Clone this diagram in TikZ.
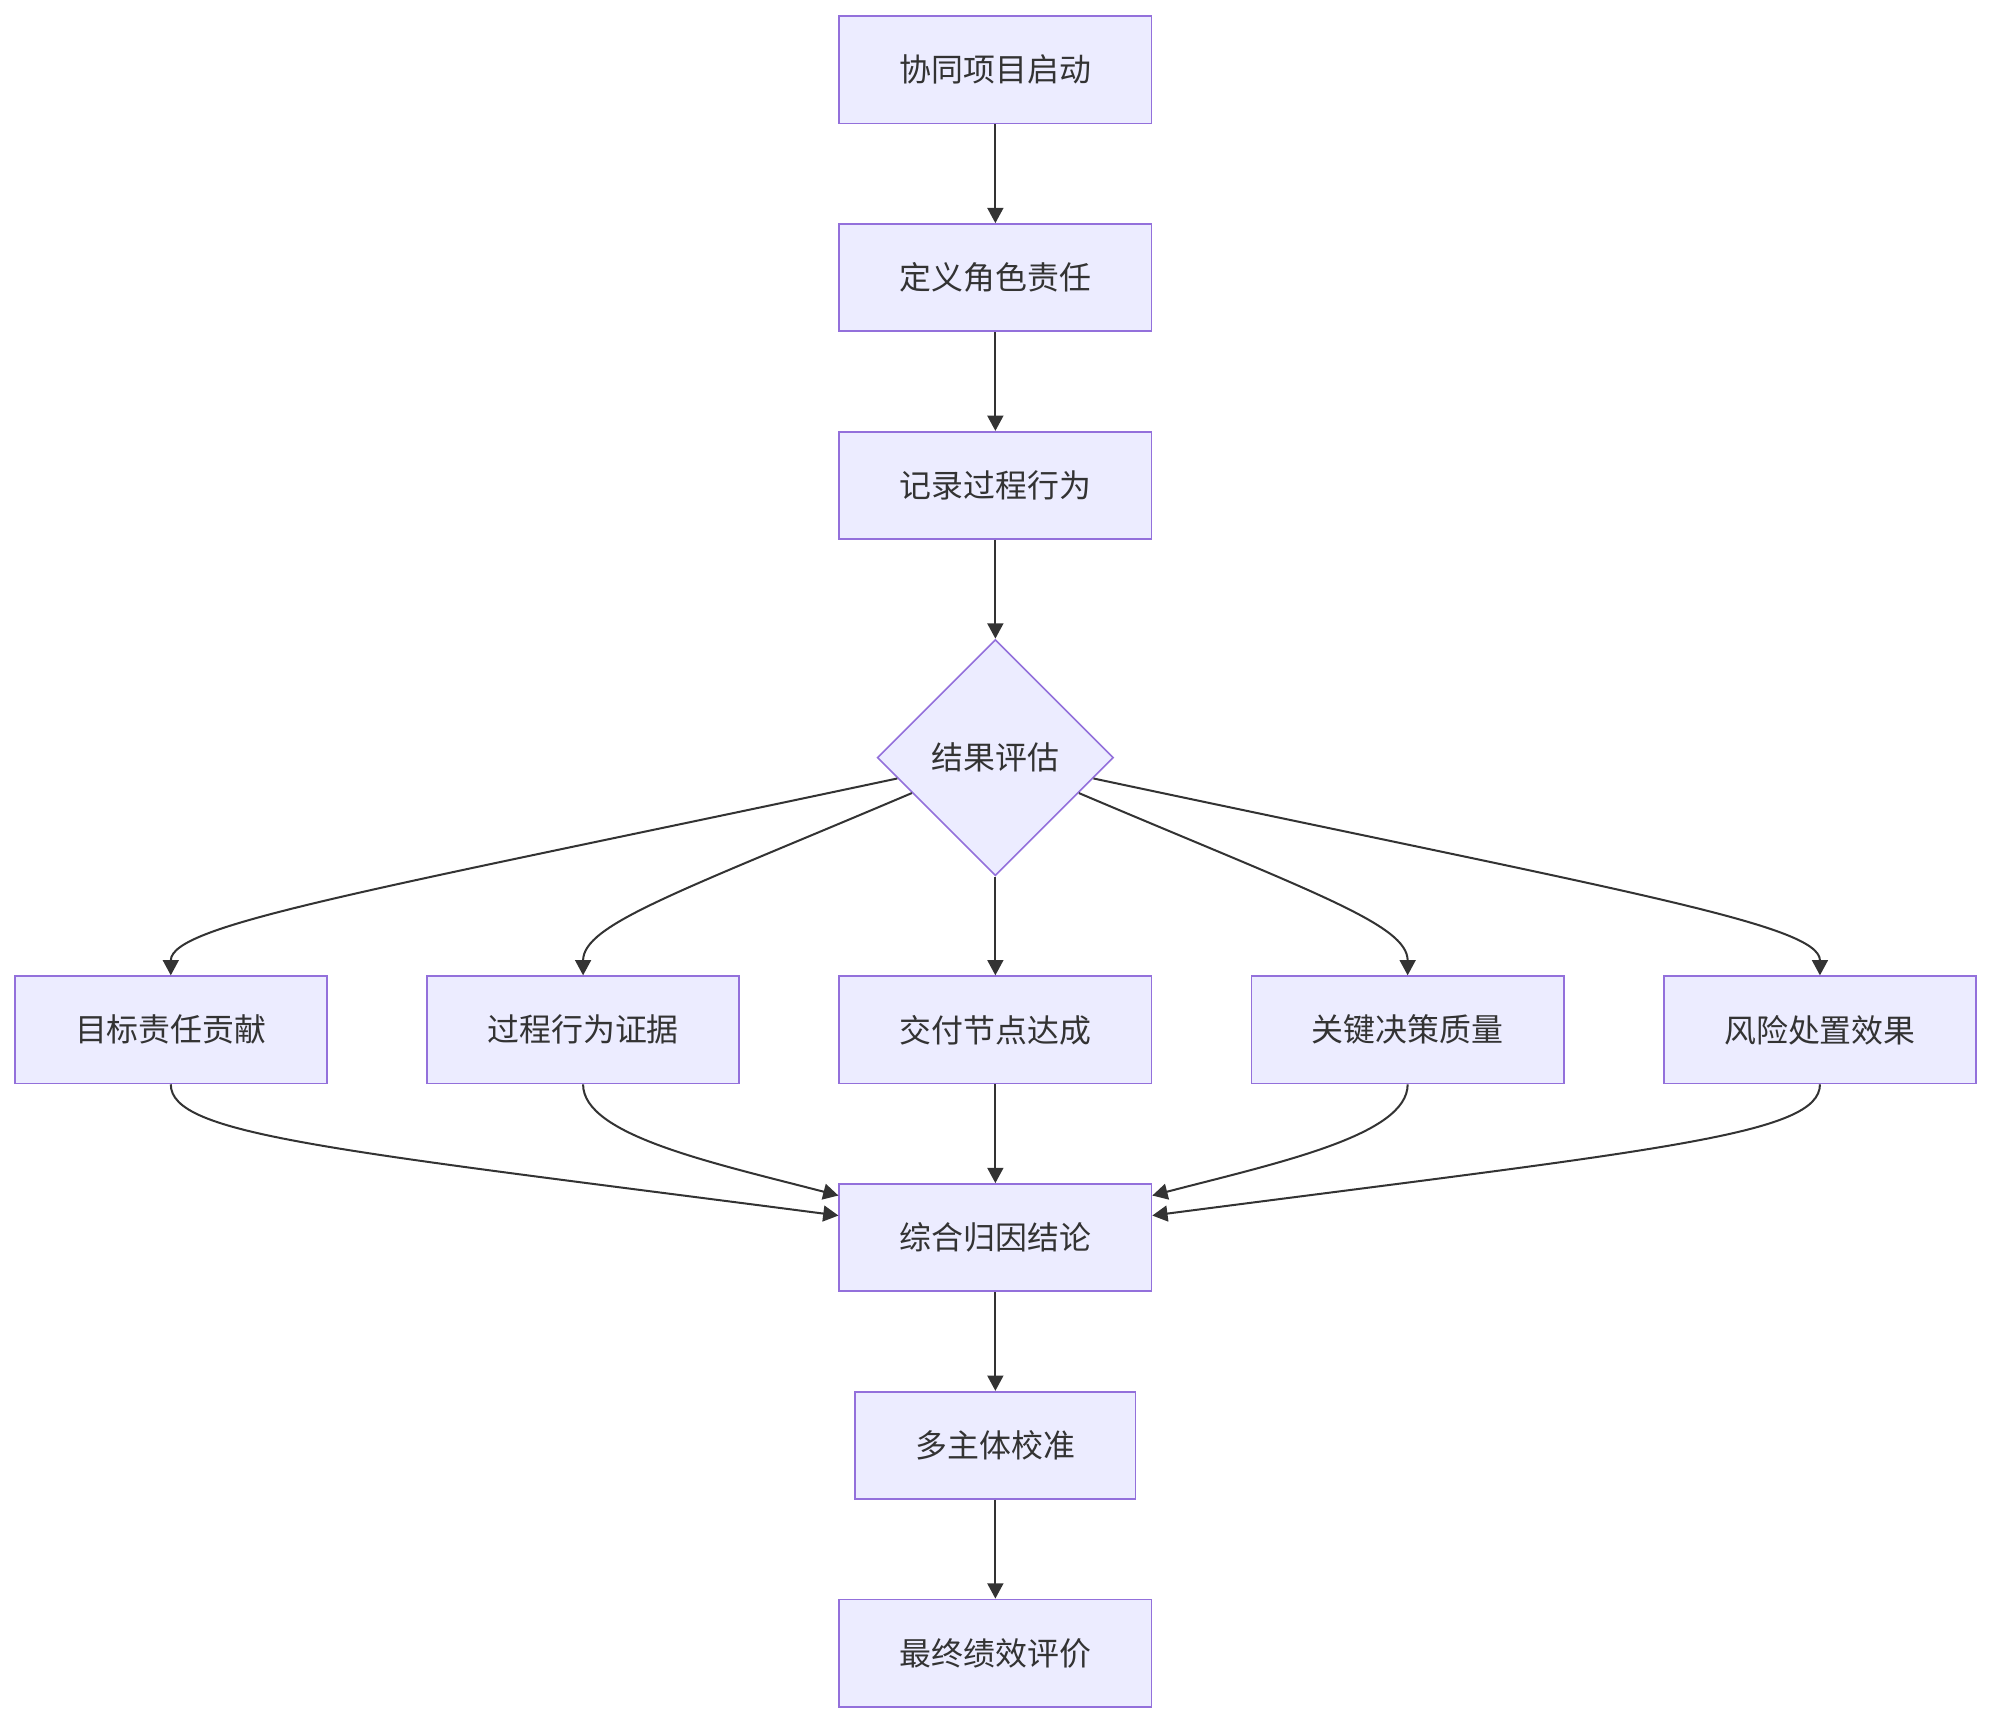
\documentclass[tikz,border=0pt]{standalone}
\usepackage{fontspec}
\newfontfamily\cjk{Noto Sans CJK SC}
\usepackage{xcolor}
\usepackage{tikz}
\usetikzlibrary{arrows.meta,positioning,shapes.geometric}
\definecolor{boxfill}{HTML}{ECECFF}
\definecolor{boxline}{HTML}{9370DB}
\definecolor{ink}{HTML}{333333}

\begin{document}
\begin{tikzpicture}[
    x=0.02cm, y=0.02cm,
    node distance=1.555cm and 1.55cm,
    every node/.style={font=\cjk\fontsize{14.3}{17}\selectfont, text=ink},
    box/.style={draw=boxline, line width=0.75pt, fill=boxfill, minimum height=1.69cm, minimum width=4.9cm, inner xsep=0.95cm},
    decide/.style={diamond, draw=boxline, line width=0.75pt, fill=boxfill, aspect=1, minimum width=3.72cm, minimum height=3.72cm, inner sep=0pt},
    arr/.style={-{Triangle[length=0.24cm, width=0.25cm]}, line width=0.9pt, draw=ink}
]
\useasboundingbox (0,0) rectangle (1568,-1357);

\node[box] (start) at (783.5,-55) {协同项目启动};
\node[box, below=of start] (roles) {定义角色责任};
\node[box, below=of roles] (record) {记录过程行为};
\node[decide, below=of record] (eval) {结果评估};

% five evaluation dimensions
\node[box, below=of eval] (d3) {交付节点达成};
\node[box, left=of d3] (d2) {过程行为证据};
\node[box, left=of d2] (d1) {目标责任贡献};
\node[box, right=of d3] (d4) {关键决策质量};
\node[box, right=of d4] (d5) {风险处置效果};

\node[box, below=of d3] (synth) {综合归因结论};
\node[box, below=of synth, minimum width=4.4cm] (calib) {多主体校准};
\node[box, below=of calib] (final) {最终绩效评价};

\draw[arr] (start) -- (roles);
\draw[arr] (roles) -- (record);
\draw[arr] (record) -- (eval);

\draw[arr] (eval.192) .. controls +(192:430) and +(0,40) .. (d1.north);
\draw[arr] (eval.203) .. controls +(203:200) and +(0,40) .. (d2.north);
\draw[arr] (eval) -- (d3);
\draw[arr] (eval.337) .. controls +(337:200) and +(0,40) .. (d4.north);
\draw[arr] (eval.348) .. controls +(348:430) and +(0,40) .. (d5.north);

\draw[arr] (d1.south) .. controls +(0,-40) and +(-400,52) .. (synth.172);
\draw[arr] (d2.south) .. controls +(0,-40) and +(-100,26) .. (synth.165);
\draw[arr] (d3) -- (synth);
\draw[arr] (d4.south) .. controls +(0,-40) and +(100,26) .. (synth.15);
\draw[arr] (d5.south) .. controls +(0,-40) and +(400,52) .. (synth.8);

\draw[arr] (synth) -- (calib);
\draw[arr] (calib) -- (final);
\end{tikzpicture}
\end{document}
